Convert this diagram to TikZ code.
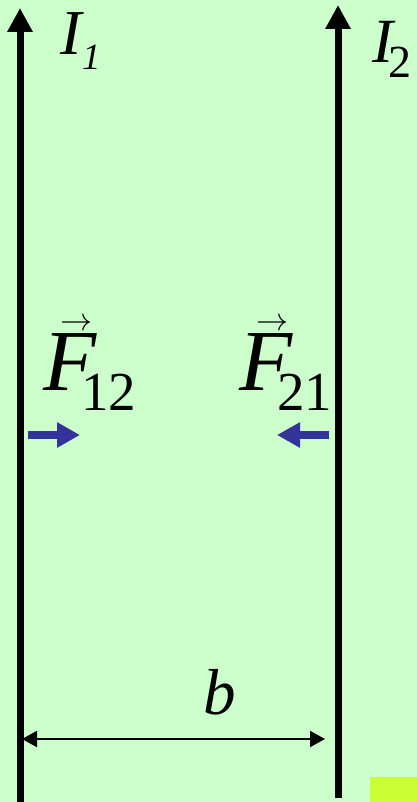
\documentclass[tikz,border=0pt]{standalone}
\usepackage{fontspec}
\usepackage{graphicx}
\setmainfont{Liberation Serif}
\usetikzlibrary{arrows.meta}

\definecolor{bg}{HTML}{CCFFCC}
\definecolor{forceblue}{HTML}{333399}
\definecolor{marker}{HTML}{CCFF33}

\tikzset{
  wire/.style={line width=7pt, -{Triangle[length=24pt,width=24pt]}},
  force/.style={forceblue, line width=8pt, -{Triangle[length=23pt,width=24pt]}},
  dist/.style={line width=2pt, {Triangle[length=15pt,width=16pt]}-{Triangle[length=15pt,width=16pt]}},
  lbl/.style={inner sep=0pt, anchor=base west}
}

% force label: italic F with arrow on top and a lowered subscript
\newcommand\forcelbl[1]{\fontsize{87}{90}\selectfont%
  \makebox[0pt][l]{\hspace{17pt}\raisebox{60pt}{\resizebox{32pt}{!}{$\rightarrow$}}}%
  {\itshape F}\hspace{-15pt}\raisebox{-20pt}{\fontsize{55}{55}\selectfont #1}}

\begin{document}
\begin{tikzpicture}[x=1pt, y=-1pt]
    % background and corner mark
    \fill[bg] (0,0) rectangle (417,802);
    \useasboundingbox (0,0) rectangle (417,802);
    \fill[marker] (370,777) rectangle (417,802);

    % the two wires
    \coordinate (w1b) at (20,802);
    \coordinate (w1t) at (20,8);
    \coordinate (w2b) at (338,798);
    \coordinate (w2t) at (338,5);
    \draw[wire] (w1b) -- (w1t);
    \draw[wire] (w2b) -- (w2t);

    % currents
    \node[lbl] (I1) at (60.5,55) {\fontsize{64}{70}\selectfont\itshape I\raisebox{-15pt}{\fontsize{37}{40}\selectfont 1}};
    \node[lbl] (I2) at (372.5,63) {\fontsize{63}{70}\selectfont{\itshape I}\hspace{-5pt}\raisebox{-15pt}{\fontsize{46}{50}\selectfont 2}};

    % forces
    \node[lbl] (F12) at (43,390) {\forcelbl{12}};
    \node[lbl] (F21) at (239,390) {\forcelbl{21}};
    \coordinate (f12s) at (28,435);
    \coordinate (f12e) at (80,435);
    \coordinate (f21s) at (329,435);
    \coordinate (f21e) at (277,435);
    \draw[force] (f12s) -- (f12e);
    \draw[force] (f21s) -- (f21e);

    % separation
    \node[lbl] (b) at (203.5,714) {\fontsize{65}{70}\selectfont\itshape b};
    \coordinate (d1) at (22,739);
    \coordinate (d2) at (325,739);
    \draw[dist] (d1) -- (d2);
\end{tikzpicture}
\end{document}
